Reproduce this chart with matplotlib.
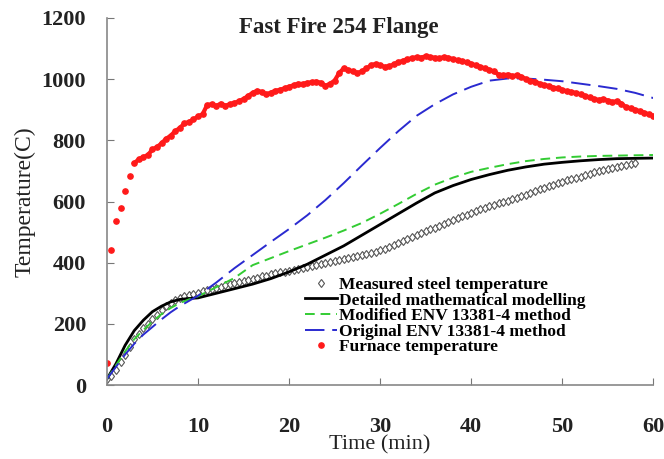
import matplotlib.pyplot as plt
import numpy as np

plt.rcParams['font.family'] = ['Liberation Serif', 'DejaVu Serif']
plt.rcParams['font.weight'] = 'bold'

# furnace temperature, every 0.5 min
furnace = [72, 440, 535, 580, 635, 683, 725, 738, 745, 752,
           770, 778, 790, 805, 815, 830, 840, 855, 860, 868,
           878, 885, 915, 918, 912, 920, 913, 918, 922, 928,
           935, 945, 955, 962, 958, 950, 956, 962, 965, 970,
           975, 980, 985, 984, 988, 990, 992, 988, 978, 985,
           995, 1020, 1035, 1030, 1025, 1020, 1025, 1035, 1045, 1050,
           1045, 1040, 1042, 1048, 1055, 1060, 1065, 1068, 1072, 1070,
           1075, 1072, 1070, 1068, 1072, 1070, 1065, 1062, 1058, 1055,
           1050, 1045, 1040, 1035, 1030, 1025, 1015, 1012, 1015, 1010,
           1012, 1008, 1000, 995, 992, 985, 980, 978, 972, 970,
           965, 960, 958, 955, 950, 945, 940, 935, 932, 935,
           930, 925, 928, 920, 908, 905, 900, 895, 890, 885, 880]
t_furnace = np.arange(len(furnace)) * 0.5

# measured steel temperature, every 0.5 min
measured = [20, 30, 50, 75, 100, 125, 150, 168, 185, 200,
            215, 230, 245, 257, 268, 277, 285, 290, 295, 298,
            302, 306, 310, 314, 318, 322, 326, 330, 334, 337,
            341, 344, 348, 351, 355, 358, 362, 365, 368, 371,
            374, 377, 381, 384, 387, 390, 393, 395, 398, 402,
            405, 408, 412, 415, 418, 422, 425, 429, 432, 436,
            440, 446, 452, 458, 465, 471, 477, 484, 490, 496,
            502, 509, 515, 521, 527, 534, 540, 545, 551, 556,
            562, 568, 574, 580, 585, 590, 594, 599, 603, 608,
            612, 617, 622, 628, 634, 640, 645, 650, 655, 660,
            665, 669, 672, 676, 680, 685, 690, 695, 700, 703,
            707, 710, 713, 717, 720, 724, 727]
t_measured = np.arange(len(measured)) * 0.5

t_model = [0, 1, 2, 3, 4, 5, 6, 7, 8, 9, 10, 12, 14, 16, 18, 20, 22, 24,
           26, 28, 30, 32, 34, 36, 38, 40, 42, 44, 46, 48, 50, 52, 54, 56, 58, 60]
detailed = [20, 70, 130, 178, 212, 240, 258, 272, 280, 283, 285, 300, 315, 330,
            348, 370, 395, 425, 455, 490, 525, 560, 595, 628, 652, 672, 688, 702,
            713, 722, 728, 733, 737, 740, 741, 742]
modified = [20, 65, 110, 150, 180, 208, 232, 252, 268, 280, 290, 320, 350, 392,
            415, 438, 460, 482, 505, 530, 560, 592, 625, 655, 678, 697, 710, 722,
            732, 739, 744, 747, 749, 750, 751, 752]
original = [20, 60, 100, 135, 165, 190, 215, 238, 258, 275, 292, 335, 382, 425,
            468, 510, 555, 605, 660, 718, 775, 830, 880, 918, 950, 975, 995, 1002,
            1002, 998, 993, 985, 977, 968, 955, 938]

fig = plt.figure(figsize=(6.64, 4.59), dpi=100)
ax = fig.add_axes([0.161, 0.161, 0.823, 0.800])

red = '#ff1a1a'
ax.plot(t_measured, measured, linestyle='none', marker='d', markersize=4.5,
        markerfacecolor='white', markeredgecolor='#555555', markeredgewidth=0.8,
        label='Measured steel temperature')
ax.plot(t_model, detailed, color='black', lw=2, label='Detailed mathematical modelling')
ax.plot(t_model, modified, color='#33cc33', lw=1.4, dashes=(5, 3),
        label='Modified ENV 13381-4 method')
ax.plot(t_model, original, color='#2a2ad0', lw=1.4, dashes=(10, 4),
        label='Original ENV 13381-4 method')
ax.plot(t_furnace[6:], furnace[6:], color=red, lw=3)
ax.plot(t_furnace, furnace, linestyle='none', marker='o', markersize=3.8,
        color=red, label='Furnace temperature')

ax.set_xlim(0, 60)
ax.set_ylim(0, 1200)
ax.set_xticks([0, 10, 20, 30, 40, 50, 60])
ax.set_yticks([0, 200, 400, 600, 800, 1000, 1200])
ax.tick_params(direction='in', length=5, color='#777777', labelsize=16,
               labelcolor='#222222')
ax.tick_params(axis='x', pad=23)
ax.tick_params(axis='y', pad=15)
for s in ['top', 'right']:
    ax.spines[s].set_visible(False)
for s in ['left', 'bottom']:
    ax.spines[s].set_color('#888888')
    ax.spines[s].set_linewidth(1.2)

ax.set_xlabel('Time (min)', fontsize=16, labelpad=-1, color='#222222')
ax.set_ylabel('Temperature(C)', fontsize=17, fontweight='normal', labelpad=4,
              color='#222222')
ax.text(0.425, 0.973, 'Fast Fire 254 Flange', transform=ax.transAxes,
        ha='center', va='center', fontsize=16.5, color='#222222')

ax.legend(loc='upper left', bbox_to_anchor=(0.362, 0.295), frameon=False,
          fontsize=12.5, numpoints=1, handlelength=1.85, handletextpad=0.1,
          labelspacing=-0.03, borderaxespad=0, borderpad=0)

fig.savefig('out.png', dpi=100)
